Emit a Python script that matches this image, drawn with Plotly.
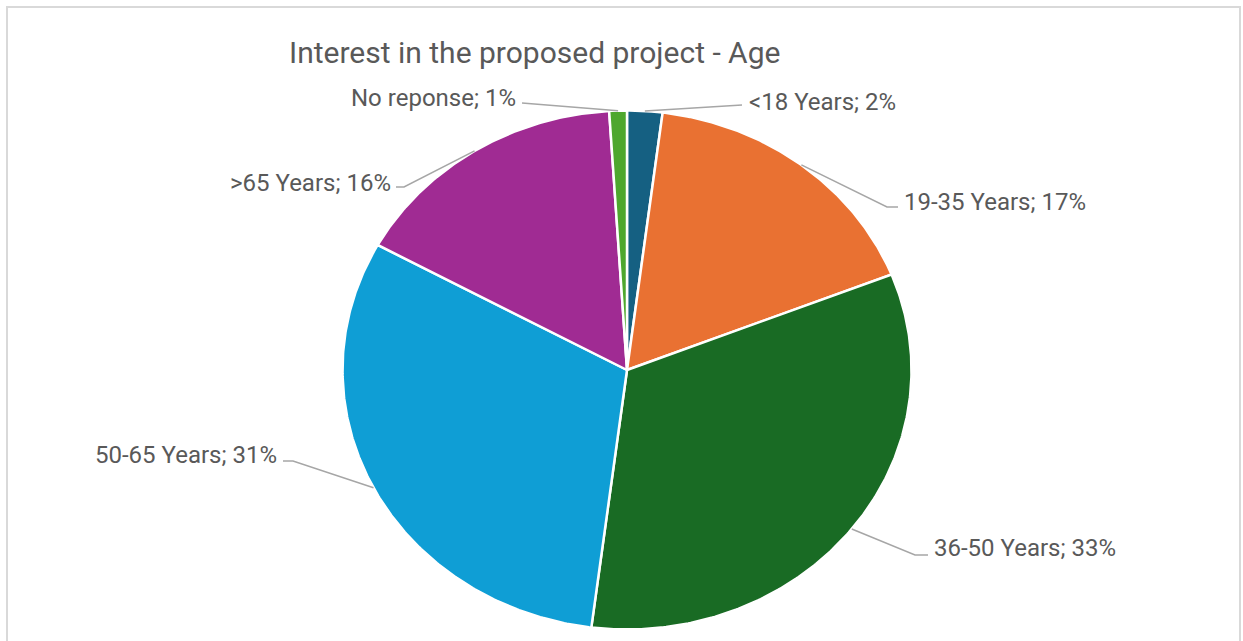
import numpy as np
import plotly.graph_objects as go

# Survey answers by age group (percent of respondents), clockwise from 12 o'clock
categories = ["<18 Years", "19-35 Years", "36-50 Years", "50-65 Years", ">65 Years", "No reponse"]
shares = [2, 17, 33, 31, 16, 1]
colors = ["#156082", "#E97132", "#196B24", "#0F9ED5", "#A02B93", "#4EA72E"]

W, H = 1243, 641
CX, CY = 627, 370          # pie centre (px)
RX, RY = 284.5, 259.5      # pie radii (px)
TEXT = "#595959"
FONT = "Roboto"

# label placement: (anchor x, anchor y, side of text), elbow x and end x of the leader
label_layout = [
    (747, 102, "left", 742, 742),
    (902, 202, "left", 887, 898),
    (932, 548, "left", 915, 928),
    (279, 455, "right", 293, 283),
    (393, 183, "right", 404, 396),
    (518, 98, "right", 522, 522),
]
leader_y = [105, 207, 555, 461, 187, 103]


def edge_point(frac):
    ang = 2 * np.pi * frac
    return CX + RX * np.sin(ang), CY - RY * np.cos(ang)


fig = go.Figure()
total = float(sum(shares))
start = 0.0
mids = []
for cat, val, col in zip(categories, shares, colors):
    f0, f1 = start / total, (start + val) / total
    n = max(3, int((f1 - f0) * 720))
    t = np.linspace(f0, f1, n)
    ex, ey = edge_point(t)
    xs = np.concatenate([[CX], ex, [CX]])
    ys = np.concatenate([[CY], ey, [CY]])
    fig.add_trace(go.Scatter(
        x=xs, y=ys, mode="lines", fill="toself", fillcolor=col,
        line=dict(color="white", width=2.5), name=cat,
        hoverinfo="text", text=f"{cat}; {val}%", showlegend=False,
    ))
    mids.append((f0 + f1) / 2)
    start += val

annotations = []
for cat, val, mid, lay, ly in zip(categories, shares, mids, label_layout, leader_y):
    tx, ty, side, elbow_x, end_x = lay
    sx, sy = edge_point(mid)
    fig.add_trace(go.Scatter(
        x=[sx, elbow_x, end_x], y=[sy, ly, ly], mode="lines",
        line=dict(color="#A6A6A6", width=1.5), hoverinfo="skip", showlegend=False,
    ))
    annotations.append(dict(
        x=tx, y=ty, xref="x", yref="y", text=f"{cat}; {val}%", showarrow=False,
        xanchor=side, yanchor="middle",
        font=dict(family=FONT, size=24, color=TEXT),
    ))

annotations.append(dict(
    x=534 / W, y=1 - 53 / H, xref="paper", yref="paper",
    text="Interest in the proposed project - Age", showarrow=False,
    xanchor="center", yanchor="middle",
    font=dict(family=FONT, size=30, color=TEXT),
))

fig.update_layout(
    width=W, height=H,
    margin=dict(l=0, r=0, t=0, b=0),
    paper_bgcolor="white", plot_bgcolor="white",
    xaxis=dict(range=[0, W], visible=False, fixedrange=True),
    yaxis=dict(range=[H, 0], visible=False, fixedrange=True),
    annotations=annotations,
    shapes=[dict(
        type="rect", xref="paper", yref="paper",
        x0=7 / W, x1=1240 / W, y0=-0.05, y1=1 - 7 / H,
        line=dict(color="#D9D9D9", width=2), fillcolor="rgba(0,0,0,0)", layer="below",
    )],
)

fig.write_html("out.html")
